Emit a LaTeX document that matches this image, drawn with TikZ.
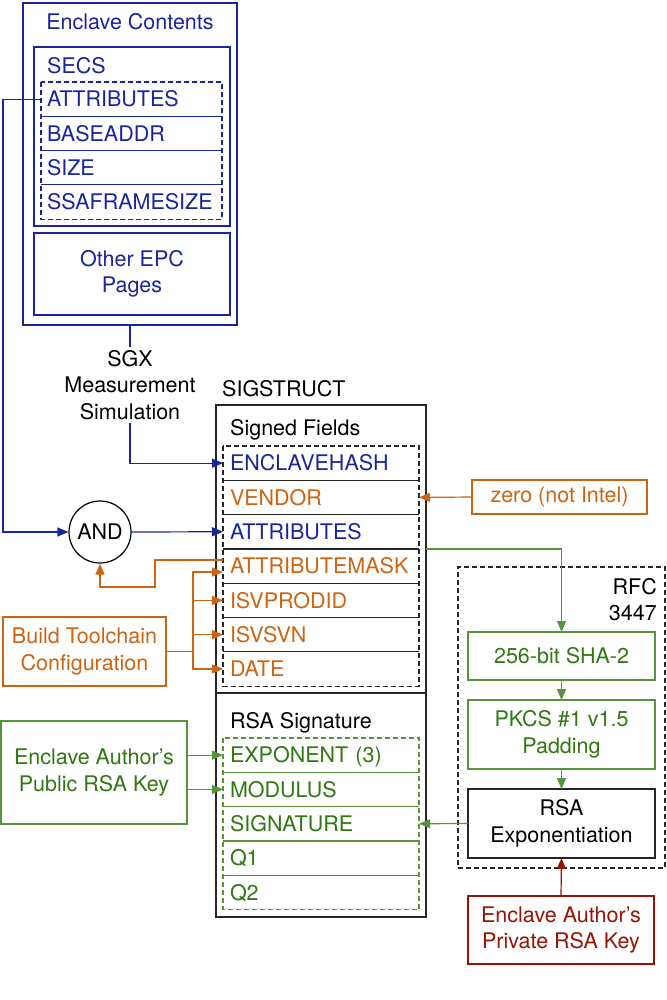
\documentclass[tikz,border=0pt]{standalone}
\usepackage{fontspec}
\setmainfont{TeX Gyre Heros}
\usepackage{tikz}
\usetikzlibrary{positioning}
\usetikzlibrary{arrows.meta, shapes}
\definecolor{sgxblue}{RGB}{24,38,155}
\definecolor{sgxorange}{RGB}{204,100,18}
\definecolor{sgxgreen}{RGB}{48,120,18}
\definecolor{sgxgreenline}{RGB}{88,148,58}
\definecolor{sgxred}{RGB}{150,20,5}
\tikzstyle{box} = [rectangle, draw, line width=1.2pt, anchor=north west, inner sep=0pt, outer sep=0pt, align=center]
\tikzstyle{field} = [rectangle, minimum width=196pt, minimum height=34.3pt, text width=182pt, inner xsep=7pt, inner ysep=0pt, outer sep=0pt, text height=15.5pt, text depth=0pt, align=left]
\tikzstyle{secsfield} = [field, minimum width=181pt, text width=169pt, inner xsep=6pt]
\tikzstyle{fieldtitle} = [anchor=west, inner sep=0pt]
\tikzstyle{wire} = [line width=1.2pt]
\tikzstyle{arrow} = [wire, -{Triangle[length=11pt,width=9pt]}]
\tikzstyle{dashbox} = [line width=1.2pt, dash pattern=on 5pt off 3pt]
\tikzstyle{gate} = [circle, draw, line width=1.2pt, minimum size=62pt, inner sep=0pt]

\begin{document}
\begin{tikzpicture}[x=1pt, y=-1pt, font=\fontsize{21.5}{26.5}\selectfont]
\useasboundingbox (0,0) rectangle (666,1000);

% Enclave contents
\node (enclave) [box, draw=sgxblue, minimum width=214pt, minimum height=322pt] at (23,3) {};
\node (enclavetitle) [text=sgxblue] at (130,22) {Enclave Contents};
\node (secs) [box, draw=sgxblue, minimum width=196pt, minimum height=179pt] at (34,47) {};
\node (secstitle) [fieldtitle, text=sgxblue] at (47,66) {SECS};
\node (secsattr) [secsfield, anchor=north west, text=sgxblue] at (41,82) {ATTRIBUTES};
\node (baseaddr) [secsfield, below=0pt of secsattr, text=sgxblue] {BASEADDR};
\node (size) [secsfield, below=0pt of baseaddr, text=sgxblue] {SIZE};
\node (ssaframe) [secsfield, below=0pt of size, text=sgxblue] {SSAFRAMESIZE};
\foreach \r in {baseaddr,size,ssaframe}
  \draw [wire, sgxblue] (\r.north west) -- (\r.north east);
\draw [dashbox, sgxblue] (secsattr.north west) rectangle (ssaframe.south east);
\node (otherepc) [box, draw=sgxblue, text=sgxblue, minimum width=196pt, minimum height=82pt] at (34,233) {Other EPC\\Pages};

\node (sgxsim) [align=center] at (130,385) {SGX\\Measurement\\Simulation};
\node (and) [gate] at (100,532) {AND};

% SIGSTRUCT
\node (sigtitle) [fieldtitle] at (222,389) {SIGSTRUCT};
\node (signed) [box, draw=black!85, minimum width=210pt, minimum height=288pt] at (216,405) {};
\node (rsasig) [box, draw=black!85, minimum width=210pt, minimum height=224pt] at (216,693) {};
\node (signedtitle) [fieldtitle] at (230,430) {Signed Fields};
\node (rsatitle) [fieldtitle] at (230,723) {RSA Signature};

\node (encl) [field, anchor=north west, text=sgxblue] at (223,446) {ENCLAVEHASH};
\node (vendor) [field, below=0pt of encl, text=sgxorange] {VENDOR};
\node (attr) [field, below=0pt of vendor, text=sgxblue] {ATTRIBUTES};
\node (attrmask) [field, below=0pt of attr, text=sgxorange] {ATTRIBUTEMASK};
\node (isvprodid) [field, below=0pt of attrmask, text=sgxorange] {ISVPRODID};
\node (isvsvn) [field, below=0pt of isvprodid, text=sgxorange] {ISVSVN};
\node (date) [field, below=0pt of isvsvn, text=sgxorange] {DATE};
\foreach \r in {vendor,attr,attrmask,isvprodid,isvsvn,date}
  \draw [wire, black!85] (\r.north west) -- (\r.north east);
\draw [dashbox, black!85] (encl.north west) rectangle (date.south east);

\node (expo) [field, anchor=north west, text=sgxgreen] at (223,738) {EXPONENT (3)};
\node (modulus) [field, below=0pt of expo, text=sgxgreen] {MODULUS};
\node (sig) [field, below=0pt of modulus, text=sgxgreen] {SIGNATURE};
\node (qone) [field, below=0pt of sig, text=sgxgreen] {Q1};
\node (qtwo) [field, below=0pt of qone, text=sgxgreen] {Q2};
\foreach \r in {modulus,sig,qone,qtwo}
  \draw [wire, sgxgreenline] (\r.north west) -- (\r.north east);
\draw [dashbox, sgxgreenline] (expo.north west) rectangle (qtwo.south east);

% Inputs
\node (build) [box, draw=sgxorange, text=sgxorange, minimum width=163pt, minimum height=69pt] at (3,617) {Build Toolchain\\Configuration};
\node (zero) [box, draw=sgxorange, text=sgxorange, minimum width=175pt, minimum height=34pt] at (472,480) {zero (not Intel)};
\node (pubkey) [box, draw=sgxgreenline, text=sgxgreen, minimum width=186pt, minimum height=103pt] at (1,721) {Enclave Author’s\\Public RSA Key};

% RFC 3447
\node (rfc) [box, draw=black!85, dashbox, minimum width=207pt, minimum height=301pt] at (458,567) {};
\node (rfclabel) [align=right, anchor=north east, inner sep=0pt] at ([xshift=-8pt, yshift=-11pt]rfc.north east) {RFC\\3447};
\node (sha) [box, draw=sgxgreenline, text=sgxgreen, minimum width=187pt, minimum height=48pt] at (468,632) {256-bit SHA-2};
\node (pkcs) [box, draw=sgxgreenline, text=sgxgreen, minimum width=187pt, minimum height=69pt] at (468,700) {PKCS \#1 v1.5\\Padding};
\node (rsaexp) [box, draw=black!85, minimum width=187pt, minimum height=69pt] at (468,789) {RSA\\Exponentiation};
\node (privkey) [box, draw=sgxred, text=sgxred, minimum width=186pt, minimum height=68pt] at (468,896) {Enclave Author’s\\Private RSA Key};

% Arrows
\draw [wire, sgxblue] (enclave.south) -- (sgxsim.north);
\draw [arrow, sgxblue] (sgxsim.south) |- (encl.west);
\draw [arrow, sgxblue] (secsattr.west) -- ++(-38,0) |- (and.west);
\draw [arrow, sgxblue] (and.east) -- (attr.west);
\draw [arrow, sgxorange] ([yshift=6pt]attrmask.west) -- ++(-68,0) -- ++(0,27) -| (and.south);
\draw [wire, sgxorange] (build.east) -- ++(27,0) coordinate (split);
\draw [arrow, sgxorange] (split) |- ([yshift=-6pt]attrmask.west);
\foreach \r in {isvprodid,isvsvn,date}
  \draw [arrow, sgxorange] (split) |- (\r.west);
\draw [arrow, sgxorange] (zero.west) -- (vendor.east);
\draw [arrow, sgxgreenline] (signed.east |- attr.south) -| (sha.north);
\draw [arrow, sgxgreenline] (sha.south) -- (pkcs.north);
\draw [arrow, sgxgreenline] (pkcs.south) -- (rsaexp.north);
\draw [arrow, sgxgreenline] (rsaexp.west) -- (sig.east);
\draw [arrow, sgxred] (privkey.north) -- (rsaexp.south);
\draw [arrow, sgxgreenline] (pubkey.east |- expo.west) -- (expo.west);
\draw [arrow, sgxgreenline] (pubkey.east |- modulus.west) -- (modulus.west);

\end{tikzpicture}
\end{document}
